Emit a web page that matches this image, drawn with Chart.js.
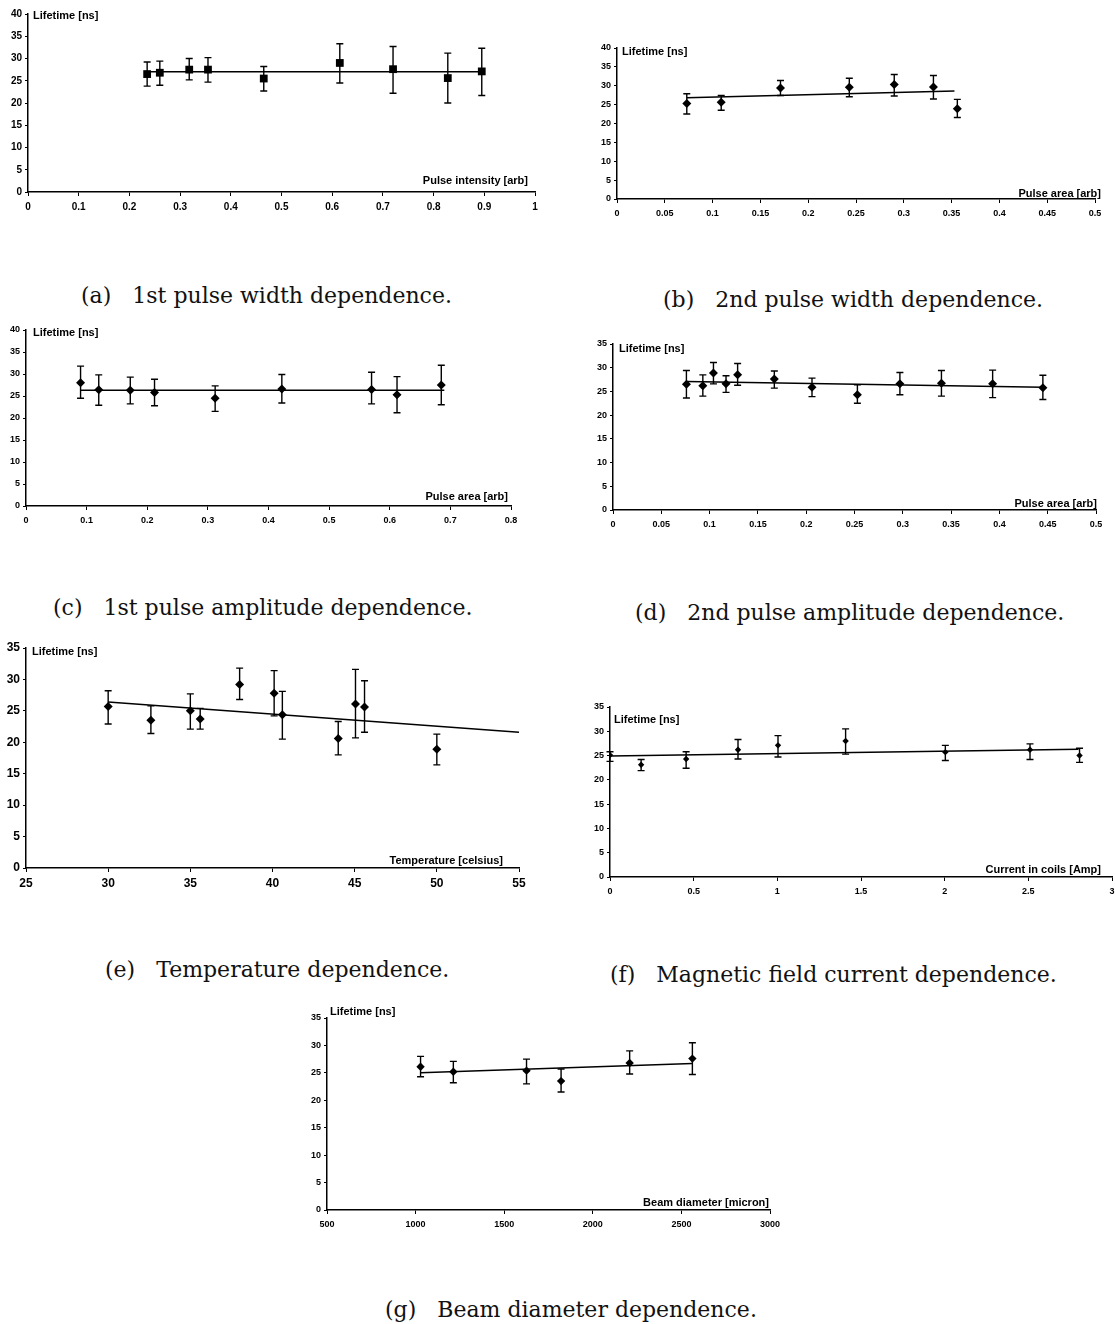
<!DOCTYPE html>
<html>
<head>
<meta charset="utf-8">
<script src="https://cdn.jsdelivr.net/npm/chart.js@4.4.1/dist/chart.umd.min.js"></script>
<style>
    body { margin: 0; background: #fff; width: 1115px; height: 1324px; position: relative; overflow: hidden; }
    .cap { position: absolute; font-family: "DejaVu Serif", serif; font-size: 22px; color: #111; white-space: nowrap; line-height: 26px; }
    .cap span { margin-right: 21px; }
</style>
</head>
<body>
<div class="cap" style="left:81px;top:283px"><span>(a)</span>1st pulse width dependence.</div>
<div class="cap" style="left:663px;top:287px"><span>(b)</span>2nd pulse width dependence.</div>
<div class="cap" style="left:53px;top:595px"><span>(c)</span>1st pulse amplitude dependence.</div>
<div class="cap" style="left:635px;top:600px"><span>(d)</span>2nd pulse amplitude dependence.</div>
<div class="cap" style="left:105px;top:957px"><span>(e)</span>Temperature dependence.</div>
<div class="cap" style="left:610px;top:962px"><span>(f)</span>Magnetic field current dependence.</div>
<div class="cap" style="left:385px;top:1297px"><span>(g)</span>Beam diameter dependence.</div>

<script>
// y tick labels
const yTicks40 = [0, 5, 10, 15, 20, 25, 30, 35, 40];
const yTicks35 = [0, 5, 10, 15, 20, 25, 30, 35];

// (a) 1st pulse width
const aXTicks = [0, 0.1, 0.2, 0.3, 0.4, 0.5, 0.6, 0.7, 0.8, 0.9, 1];
const aX = [0.235, 0.26, 0.318, 0.355, 0.465, 0.615, 0.72, 0.828, 0.895];
const aY = [26.5, 26.8, 27.5, 27.5, 25.5, 29.0, 27.6, 25.6, 27.1];
const aHi = [29.2, 29.4, 30.0, 30.2, 28.2, 33.3, 32.7, 31.2, 32.3];
const aLo = [23.8, 24.0, 25.2, 24.7, 22.7, 24.5, 22.2, 20.0, 21.7];
const aFitX = [0.235, 0.9];
const aFitY = [27.0, 27.0];

// (b) 2nd pulse width
const bXTicks = [0, 0.05, 0.1, 0.15, 0.2, 0.25, 0.3, 0.35, 0.4, 0.45, 0.5];
const bX = [0.073, 0.109, 0.171, 0.243, 0.29, 0.331, 0.356];
const bY = [25.3, 25.6, 29.4, 29.6, 30.3, 29.7, 23.9];
const bHi = [27.9, 27.4, 31.4, 32.0, 33.0, 32.7, 26.4];
const bLo = [22.5, 23.5, 27.4, 27.1, 27.3, 26.5, 21.6];
const bFitX = [0.073, 0.353];
const bFitY = [26.8, 28.6];

// (c) 1st pulse amplitude
const cXTicks = [0, 0.1, 0.2, 0.3, 0.4, 0.5, 0.6, 0.7, 0.8];
const cX = [0.09, 0.12, 0.172, 0.212, 0.312, 0.422, 0.57, 0.612, 0.685];
const cY = [28.0, 26.4, 26.3, 25.8, 24.5, 26.6, 26.5, 25.3, 27.5];
const cHi = [31.8, 29.8, 29.3, 28.8, 27.3, 29.9, 30.4, 29.4, 32.0];
const cLo = [24.5, 22.9, 23.2, 22.8, 21.5, 23.4, 23.2, 21.2, 23.0];
const cFitX = [0.09, 0.69];
const cFitY = [26.3, 26.3];

// (d) 2nd pulse amplitude
const dXTicks = [0, 0.05, 0.1, 0.15, 0.2, 0.25, 0.3, 0.35, 0.4, 0.45, 0.5];
const dX = [0.076, 0.093, 0.104, 0.117, 0.129, 0.167, 0.206, 0.253, 0.297, 0.34, 0.393, 0.445];
const dY = [26.5, 26.2, 28.9, 26.6, 28.5, 27.6, 25.9, 24.3, 26.6, 26.7, 26.6, 25.8];
const dHi = [29.4, 28.5, 31.1, 28.3, 30.9, 29.3, 27.8, 26.4, 29.0, 29.4, 29.5, 28.4];
const dLo = [23.6, 24.0, 26.6, 24.8, 26.3, 25.7, 23.9, 22.5, 24.3, 24.0, 23.7, 23.3];
const dFitX = [0.076, 0.445];
const dFitY = [27.1, 25.9];

// (e) temperature
const eXTicks = [25, 30, 35, 40, 45, 50, 55];
const eX = [30.0, 32.6, 35.0, 35.6, 38.0, 40.1, 40.6, 44.0, 45.05, 45.6, 50.0];
const eY = [25.7, 23.5, 25.0, 23.7, 29.2, 27.8, 24.4, 20.6, 26.1, 25.6, 18.9];
const eHi = [28.2, 25.8, 27.7, 25.4, 31.8, 31.4, 28.1, 23.3, 31.6, 29.8, 21.3];
const eLo = [22.9, 21.4, 22.1, 22.1, 26.8, 24.2, 20.5, 18.0, 20.7, 21.6, 16.4];
const eFitX = [30, 55];
const eFitY = [26.4, 21.6];

// (f) magnetic field current
const fXTicks = [0, 0.5, 1, 1.5, 2, 2.5, 3];
const fX = [0.0, 0.186, 0.455, 0.765, 1.004, 1.408, 2.004, 2.51, 2.806];
const fY = [25.1, 23.1, 24.3, 26.2, 27.1, 28.0, 25.7, 26.2, 25.0];
const fHi = [25.8, 24.2, 25.8, 28.3, 29.1, 30.5, 27.1, 27.4, 26.5];
const fLo = [23.8, 21.9, 22.4, 24.3, 24.7, 25.3, 24.0, 24.2, 23.6];
const fFitX = [0, 2.8];
const fFitY = [24.9, 26.3];

// (g) beam diameter
const gXTicks = [500, 1000, 1500, 2000, 2500, 3000];
const gX = [1028, 1213, 1626, 1821, 2208, 2562];
const gY = [26.1, 25.2, 25.4, 23.5, 26.8, 27.6];
const gHi = [28.0, 27.1, 27.5, 25.7, 29.0, 30.5];
const gLo = [24.3, 23.2, 23.0, 21.5, 24.8, 24.7];
const gFitX = [1028, 2562];
const gFitY = [25.0, 26.7];

const Y_W = 32, X_H = 30, PAD_T = 12, PAD_R = 18;

// vertical error bars with caps
const errorBars = {
    id: 'errorBars',
    afterDatasetsDraw(chart) {
        const ctx = chart.ctx;
        const xs = chart.scales.x, ys = chart.scales.y;
        chart.data.datasets.forEach(ds => {
            if (!ds.errHi) return;
            ctx.save();
            ctx.strokeStyle = '#000';
            ctx.lineWidth = 1.4;
            ds.data.forEach((pt, i) => {
                const px = xs.getPixelForValue(pt.x);
                const top = ys.getPixelForValue(ds.errHi[i]);
                const bot = ys.getPixelForValue(ds.errLo[i]);
                ctx.beginPath();
                ctx.moveTo(px, top); ctx.lineTo(px, bot);
                ctx.moveTo(px - 3.5, top); ctx.lineTo(px + 3.5, top);
                ctx.moveTo(px - 3.5, bot); ctx.lineTo(px + 3.5, bot);
                ctx.stroke();
            });
            ctx.restore();
        });
    }
};

// titles sit inside the plot, next to the axes
const axisTitles = {
    id: 'axisTitles',
    afterDraw(chart, args, opts) {
        const ctx = chart.ctx, a = chart.chartArea;
        ctx.save();
        ctx.font = 'bold ' + opts.size + 'px "Liberation Sans"';
        ctx.fillStyle = '#000';
        ctx.textBaseline = 'middle';
        ctx.textAlign = 'left';
        ctx.fillText(opts.yTitle, a.left + opts.yDx, a.top + opts.yDy);
        ctx.textAlign = 'right';
        ctx.fillText(opts.xTitle, a.right + opts.xDx, a.bottom + opts.xDy);
        ctx.restore();
    }
};

function makePanel(p) {
    const w = p.box[2] - p.box[0] + Y_W + PAD_R;
    const h = p.box[3] - p.box[1] + PAD_T + X_H;
    const canvas = document.createElement('canvas');
    canvas.width = w;
    canvas.height = h;
    canvas.style.cssText = `position:absolute;left:${p.box[0] - Y_W}px;top:${p.box[1] - PAD_T}px;width:${w}px;height:${h}px`;
    document.body.appendChild(canvas);

    const tickFont = { family: '"Liberation Sans"', size: p.font, weight: 'bold' };
    const fmt = v => String(Math.round(v * 1000) / 1000);

    new Chart(canvas.getContext('2d'), {
        type: 'scatter',
        data: {
            datasets: [
                {
                    data: p.x.map((x, i) => ({ x: x, y: p.y[i] })),
                    errHi: p.hi,
                    errLo: p.lo,
                    pointStyle: p.marker,
                    pointRadius: p.r,
                    backgroundColor: '#000',
                    borderColor: '#000',
                    borderWidth: 0
                },
                {
                    data: p.fitX.map((x, i) => ({ x: x, y: p.fitY[i] })),
                    showLine: true,
                    borderColor: '#000',
                    borderWidth: 1.5,
                    pointRadius: 0
                }
            ]
        },
        options: {
            responsive: false,
            animation: false,
            layout: { padding: { top: PAD_T, right: PAD_R, left: 0, bottom: 0 } },
            plugins: {
                legend: { display: false },
                tooltip: { enabled: false },
                axisTitles: p.titles
            },
            scales: {
                x: {
                    type: 'linear',
                    min: p.xTicks[0],
                    max: p.xTicks[p.xTicks.length - 1],
                    afterBuildTicks: s => { s.ticks = p.xTicks.map(v => ({ value: v })); },
                    afterFit: s => { s.height = X_H; },
                    border: { color: '#000', width: 1.5 },
                    grid: { drawOnChartArea: false, drawTicks: true, tickLength: 4, color: '#000' },
                    ticks: { font: tickFont, color: '#000', padding: p.xPad, autoSkip: false, maxRotation: 0, callback: fmt }
                },
                y: {
                    min: 0,
                    max: p.yTicks[p.yTicks.length - 1],
                    afterBuildTicks: s => { s.ticks = p.yTicks.map(v => ({ value: v })); },
                    afterFit: s => { s.width = Y_W; },
                    border: { color: '#000', width: 1.5 },
                    grid: { drawOnChartArea: false, drawTicks: true, tickLength: 3, color: '#000' },
                    ticks: { font: tickFont, color: '#000', padding: 3, callback: fmt }
                }
            }
        },
        plugins: [errorBars, axisTitles]
    });
}

const panels = [
    { box: [28, 14, 535, 192], x: aX, y: aY, hi: aHi, lo: aLo, fitX: aFitX, fitY: aFitY,
      xTicks: aXTicks, yTicks: yTicks40, marker: 'rect', r: 5.5, font: 10, xPad: 5,
      titles: { size: 11, yTitle: 'Lifetime [ns]', yDx: 5, yDy: 2, xTitle: 'Pulse intensity [arb]', xDx: -7, xDy: -11 } },
    { box: [617, 48, 1095, 199], x: bX, y: bY, hi: bHi, lo: bLo, fitX: bFitX, fitY: bFitY,
      xTicks: bXTicks, yTicks: yTicks40, marker: 'rectRot', r: 4.5, font: 9, xPad: 5,
      titles: { size: 11, yTitle: 'Lifetime [ns]', yDx: 5, yDy: 4, xTitle: 'Pulse area [arb]', xDx: 6, xDy: -5 } },
    { box: [26, 330, 511, 506], x: cX, y: cY, hi: cHi, lo: cLo, fitX: cFitX, fitY: cFitY,
      xTicks: cXTicks, yTicks: yTicks40, marker: 'rectRot', r: 4.5, font: 9, xPad: 5,
      titles: { size: 11, yTitle: 'Lifetime [ns]', yDx: 7, yDy: 3, xTitle: 'Pulse area [arb]', xDx: -3, xDy: -9 } },
    { box: [613, 344, 1096, 510], x: dX, y: dY, hi: dHi, lo: dLo, fitX: dFitX, fitY: dFitY,
      xTicks: dXTicks, yTicks: yTicks35, marker: 'rectRot', r: 4.5, font: 9, xPad: 5,
      titles: { size: 11, yTitle: 'Lifetime [ns]', yDx: 6, yDy: 5, xTitle: 'Pulse area [arb]', xDx: 1, xDy: -6 } },
    { box: [26, 648, 519, 868], x: eX, y: eY, hi: eHi, lo: eLo, fitX: eFitX, fitY: eFitY,
      xTicks: eXTicks, yTicks: yTicks35, marker: 'rectRot', r: 4.5, font: 12, xPad: 4,
      titles: { size: 11, yTitle: 'Lifetime [ns]', yDx: 6, yDy: 4, xTitle: 'Temperature [celsius]', xDx: -16, xDy: -7 } },
    { box: [610, 707, 1112, 877], x: fX, y: fY, hi: fHi, lo: fLo, fitX: fFitX, fitY: fFitY,
      xTicks: fXTicks, yTicks: yTicks35, marker: 'rectRot', r: 3.2, font: 9, xPad: 5,
      titles: { size: 11, yTitle: 'Lifetime [ns]', yDx: 4, yDy: 13, xTitle: 'Current in coils [Amp]', xDx: -11, xDy: -7 } },
    { box: [327, 1018, 770, 1210], x: gX, y: gY, hi: gHi, lo: gLo, fitX: gFitX, fitY: gFitY,
      xTicks: gXTicks, yTicks: yTicks35, marker: 'rectRot', r: 4.2, font: 9, xPad: 5,
      titles: { size: 11, yTitle: 'Lifetime [ns]', yDx: 3, yDy: -6, xTitle: 'Beam diameter [micron]', xDx: -1, xDy: -7 } }
];

panels.forEach(makePanel);
</script>
</body>
</html>
